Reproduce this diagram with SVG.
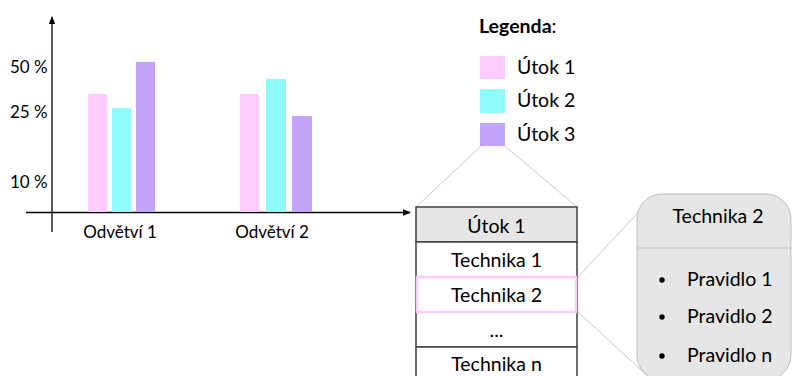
<svg xmlns="http://www.w3.org/2000/svg" width="792" height="376" viewBox="0 0 792 376">
<defs>
<marker id="arr" markerWidth="8" markerHeight="8" refX="7" refY="4" orient="auto" markerUnits="userSpaceOnUse">
<path d="M0,0.8 L8,4 L0,7.2 Z" fill="#000"/>
</marker>
<style>
text{font-family:Lato,"Open Sans","Liberation Sans",sans-serif;fill:#000}
.ax{font-size:17px}
.t{font-size:19.5px;text-anchor:middle}
.lg{font-size:19.5px}
.p1{fill:#ffccff}.p2{fill:#8ffcfa}.p3{fill:#c3a6fc}
.zoom{stroke:#c8c8c8;stroke-width:1;fill:none}
.row{fill:#fff;stroke:#404040;stroke-width:1.5}
</style>
</defs>
<rect width="792" height="376" fill="#fff"/>

<g id="chart">
<g id="axes">
<line x1="52" y1="232" x2="52" y2="17" stroke="#000" stroke-width="1.3" marker-end="url(#arr)"/>
<line x1="26" y1="212.5" x2="410" y2="212.5" stroke="#000" stroke-width="1.3" marker-end="url(#arr)"/>
</g>
<g id="ylabels">
<text x="10" y="73" class="ax">50 %</text>
<text x="10" y="118" class="ax">25 %</text>
<text x="10" y="188" class="ax">10 %</text>
</g>
<g id="bars1">
<rect class="p1" x="88" y="94" width="19" height="118"/>
<rect class="p2" x="112" y="108" width="19" height="104"/>
<rect class="p3" x="136" y="62" width="19" height="150"/>
</g>
<g id="bars2">
<rect class="p1" x="240" y="94" width="19" height="118"/>
<rect class="p2" x="266" y="79" width="20" height="133"/>
<rect class="p3" x="292" y="116" width="20" height="96"/>
</g>
<text x="120" y="238" class="ax" text-anchor="middle">Odvětví 1</text>
<text x="272" y="238" class="ax" text-anchor="middle">Odvětví 2</text>
</g>

<g id="legend">
<text x="479" y="33" style="font-size:19.5px"><tspan font-weight="bold">Legenda</tspan>:</text>
<rect class="p1" x="480" y="56" width="25" height="23"/>
<rect class="p2" x="480" y="89" width="25" height="24"/>
<rect class="p3" x="480" y="123" width="25" height="23"/>
<text x="517" y="74" class="lg">Útok 1</text>
<text x="517" y="107" class="lg">Útok 2</text>
<text x="517" y="141" class="lg">Útok 3</text>
</g>

<g id="connectors">
<line class="zoom" x1="481" y1="146" x2="416" y2="207"/>
<line class="zoom" x1="505" y1="146" x2="577" y2="207"/>
<line class="zoom" x1="578" y1="277" x2="646" y2="204"/>
<line class="zoom" x1="578" y1="312" x2="652" y2="380"/>
</g>

<g id="table">
<rect x="416" y="207" width="161" height="35" fill="#e6e6e6" stroke="#404040" stroke-width="1.5"/>
<rect class="row" x="416" y="242" width="161" height="35"/>
<rect class="row" x="416" y="277" width="161" height="35"/>
<rect class="row" x="416" y="312" width="161" height="35"/>
<rect class="row" x="416" y="347" width="161" height="35"/>
<rect x="417" y="277" width="159" height="35" fill="none" stroke="#ffccff" stroke-width="2.5"/>
<text x="496.5" y="233" class="t">Útok 1</text>
<text x="496.5" y="267" class="t">Technika 1</text>
<text x="496.5" y="302" class="t">Technika 2</text>
<text x="496.5" y="337" class="t">...</text>
<text x="496.5" y="371" class="t">Technika n</text>
</g>

<g id="detail">
<rect x="637" y="194" width="154" height="186" rx="25" ry="25" fill="#e6e6e6" stroke="#c0c0c0" stroke-width="1"/>
<line x1="637" y1="248" x2="791" y2="248" stroke="#c0c0c0" stroke-width="1"/>
<text x="718" y="223" class="t">Technika 2</text>
<circle cx="662" cy="280" r="2.7" fill="#000"/>
<circle cx="662" cy="317" r="2.7" fill="#000"/>
<circle cx="662" cy="356" r="2.7" fill="#000"/>
<text x="687" y="286" class="lg">Pravidlo 1</text>
<text x="687" y="323" class="lg">Pravidlo 2</text>
<text x="687" y="362" class="lg">Pravidlo n</text>
</g>
</svg>
